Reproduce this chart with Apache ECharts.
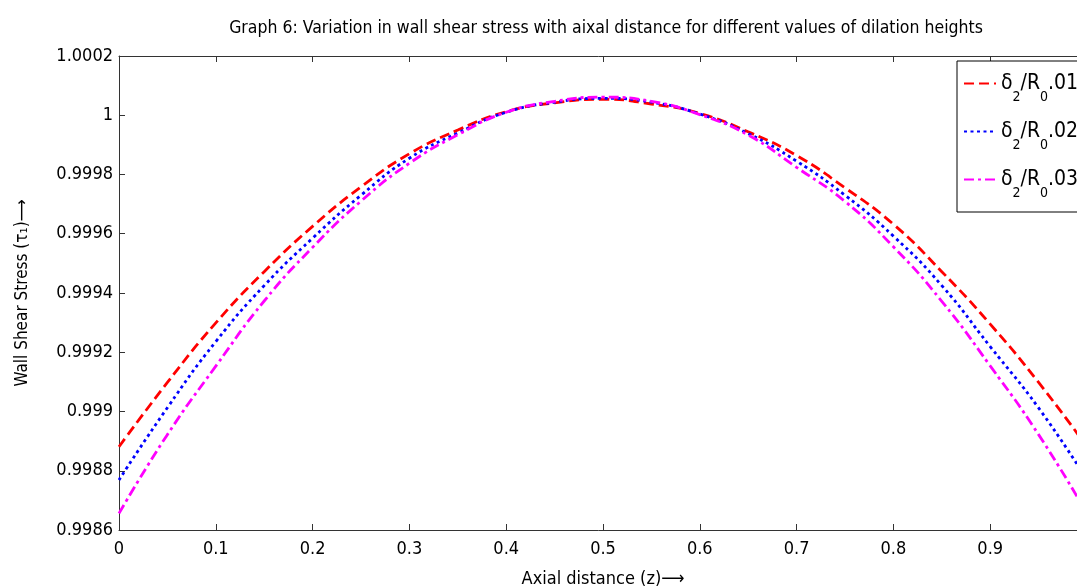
<!DOCTYPE html>
<html>
<head>
<meta charset="utf-8">
<script src="https://cdn.jsdelivr.net/npm/echarts@6/dist/echarts.min.js"></script>
<style>
html,body{margin:0;padding:0;background:#fff;}
#c{width:1077px;height:587px;}
</style>
</head>
<body>
<div id="c"></div>
<script>
var zValues = [0, 0.05, 0.1, 0.15, 0.2, 0.25, 0.3, 0.35, 0.4, 0.45, 0.5, 0.55, 0.6, 0.65, 0.7, 0.75, 0.8, 0.85, 0.9, 0.95, 1.0];
var tau01 = [0.998881, 0.999098, 0.999299, 0.999472, 0.999625, 0.999758, 0.999870, 0.999950, 1.000012, 1.000042, 1.000054,
             1.000038, 1.000006, 0.999944, 0.999864, 0.999755, 0.999632, 0.999472, 0.999295, 0.999098, 0.998881];
var tau02 = [0.998769, 0.999013, 0.999236, 0.999425, 0.999585, 0.999730, 0.999855, 0.999940, 1.000010, 1.000044, 1.000057,
             1.000044, 1.000004, 0.999938, 0.999845, 0.999730, 0.999592, 0.999425, 0.999219, 0.999012, 0.998770];
var tau03 = [0.998656, 0.998922, 0.999153, 0.999373, 0.999554, 0.999710, 0.999838, 0.999934, 1.000010, 1.000047, 1.000061,
             1.000047, 1.000002, 0.999933, 0.999824, 0.999709, 0.999556, 0.999372, 0.999154, 0.998922, 0.998656];
var seriesNames = ['01', '02', '03'];
var titleText = 'Graph 6: Variation in wall shear stress with aixal distance for different values of dilation heights';

function pairs(arr) { return zValues.map(function (z, i) { return [z, arr[i]]; }); }

var FONT = '"Liberation Sans Narrow", "DejaVu Sans Condensed", sans-serif';
var chart = echarts.init(document.getElementById('c'), null, {renderer: 'canvas'});

var legendRich = {
  b: {fontFamily: FONT, fontSize: 21, color: '#000'},
  s: {fontFamily: FONT, fontSize: 14, color: '#000', verticalAlign: 'bottom', padding: [0, 0, -10, 0]}
};

function fmt(v) { return parseFloat(v.toFixed(4)).toString(); }

chart.setOption({
  animation: false,
  backgroundColor: '#fff',
  title: {
    text: titleText,
    left: 601, top: 14, textAlign: 'center',
    textStyle: {fontFamily: FONT, fontSize: 17.5, fontWeight: 'normal', color: '#000'}
  },
  legend: {
    left: 957, top: 61, orient: 'vertical',
    padding: [12, 40, 12, 6],
    itemGap: 17, itemWidth: 32, itemHeight: 12,
    borderColor: '#000', borderWidth: 1, backgroundColor: '#fff',
    data: seriesNames,
    itemStyle: {opacity: 0},
    formatter: function (n) { return '{b|δ}{s|2}{b|/R}{s|0}{b|.' + n + '}'; },
    textStyle: {rich: legendRich, fontFamily: FONT, fontSize: 21}
  },
  grid: {left: 119, top: 56, right: -10, bottom: 57, containLabel: false, outerBoundsMode: 'none'},
  xAxis: [{
    type: 'value', min: 0, max: 1, interval: 0.1,
    name: 'Axial distance (z)⟶', nameLocation: 'middle', nameGap: 40,
    nameTextStyle: {fontFamily: FONT, fontSize: 18, color: '#000'},
    axisLine: {onZero: false, lineStyle: {color: '#333', width: 1}},
    axisTick: {inside: true, length: 6, lineStyle: {color: '#333'}},
    axisLabel: {fontFamily: FONT, fontSize: 18, color: '#000', margin: 10, formatter: fmt},
    splitLine: {show: false}
  }, {
    type: 'value', min: 0, max: 1, interval: 0.1, position: 'top',
    axisLine: {onZero: false, lineStyle: {color: '#333', width: 1}},
    axisTick: {inside: true, length: 6, lineStyle: {color: '#333'}},
    axisLabel: {show: false}, splitLine: {show: false}
  }],
  yAxis: {
    type: 'value', min: 0.9986, max: 1.0002, interval: 0.0002,
    name: 'Wall Shear Stress (τ₁)⟶', nameLocation: 'middle', nameGap: 88, nameRotate: 90,
    nameTextStyle: {fontFamily: FONT, fontSize: 17, color: '#000'},
    axisLine: {show: true, onZero: false, lineStyle: {color: '#333', width: 1}},
    axisTick: {show: true, inside: true, length: 6, lineStyle: {color: '#333'}},
    axisLabel: {fontFamily: FONT, fontSize: 18, color: '#000', margin: 6, formatter: fmt},
    splitLine: {show: false}
  },
  series: [{
    name: '01', type: 'line', xAxisIndex: 0, data: pairs(tau01), smooth: true, showSymbol: false, symbol: 'none',
    itemStyle: {color: '#ff0000'},
    lineStyle: {color: '#ff0000', width: 2.8, type: [10, 5]}
  }, {
    name: '02', type: 'line', xAxisIndex: 0, data: pairs(tau02), smooth: true, showSymbol: false, symbol: 'none',
    itemStyle: {color: '#0000ff'},
    lineStyle: {color: '#0000ff', width: 2.8, type: [3, 3.5]}
  }, {
    name: '03', type: 'line', xAxisIndex: 0, data: pairs(tau03), smooth: true, showSymbol: false, symbol: 'none',
    itemStyle: {color: '#ff00ff'},
    lineStyle: {color: '#ff00ff', width: 2.8, type: [10, 4, 3, 4]}
  }]
});
</script>
</body>
</html>
